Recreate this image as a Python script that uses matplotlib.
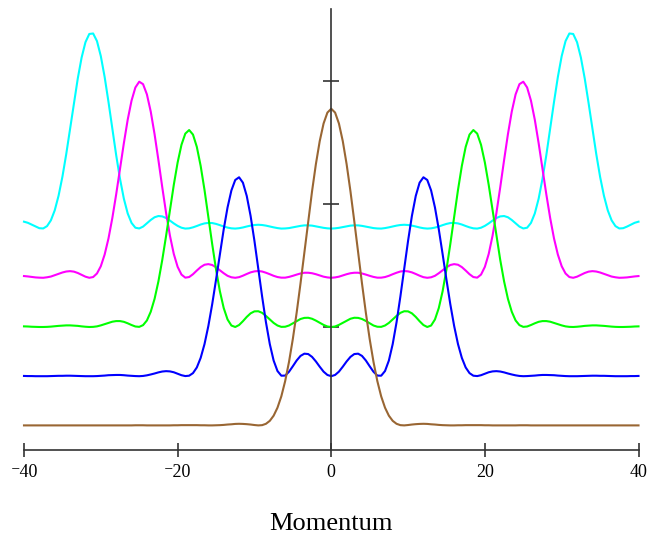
import numpy as np
import matplotlib
matplotlib.use('Agg')
import matplotlib.pyplot as plt

plt.rcParams['font.family'] = ['Liberation Serif', 'DejaVu Serif']

# momentum grid (right half, curves are symmetric about p = 0)
p_half = np.arange(0, 40.5, 0.5)

# momentum distributions, p = 0 .. 40 in steps of 0.5
brown = [2.574, 2.543, 2.454, 2.311, 2.124, 1.903, 1.659, 1.406, 1.155, 0.918,
         0.703, 0.516, 0.360, 0.236, 0.144, 0.079, 0.037, 0.013, 0.002, 0.000,
         0.003, 0.007, 0.010, 0.012, 0.013, 0.012, 0.009, 0.007, 0.004, 0.002,
         0.001, 0.000, 0.000, 0.001, 0.001, 0.002, 0.002, 0.002, 0.002, 0.002,
         0.001, 0.001, 0.000, 0.000, 0.000, 0.000, 0.000, 0.000, 0.000, 0.001,
         0.001, 0.001, 0.000, 0.000, 0.000, 0.000, 0.000, 0.000, 0.000, 0.000,
         0.000, 0.000, 0.000, 0.000, 0.000, 0.000, 0.000, 0.000, 0.000, 0.000,
         0.000, 0.000, 0.000, 0.000, 0.000, 0.000, 0.000, 0.000, 0.000, 0.000,
         0.000]

blue = [0.000, 0.010, 0.037, 0.077, 0.120, 0.157, 0.180, 0.183, 0.165, 0.128,
        0.081, 0.036, 0.005, 0.004, 0.042, 0.127, 0.261, 0.438, 0.648, 0.875,
        1.100, 1.303, 1.465, 1.573, 1.617, 1.595, 1.510, 1.372, 1.194, 0.992,
        0.784, 0.585, 0.408, 0.261, 0.149, 0.071, 0.025, 0.004, 0.001, 0.008,
        0.020, 0.032, 0.039, 0.041, 0.038, 0.031, 0.022, 0.014, 0.007, 0.002,
        0.000, 0.001, 0.003, 0.005, 0.008, 0.010, 0.010, 0.009, 0.008, 0.005,
        0.003, 0.001, 0.000, 0.000, 0.000, 0.001, 0.002, 0.003, 0.004, 0.004,
        0.003, 0.003, 0.002, 0.001, 0.000, 0.000, 0.000, 0.000, 0.001, 0.001,
        0.002]

green = [0.000, 0.004, 0.017, 0.034, 0.052, 0.067, 0.075, 0.074, 0.065, 0.049,
         0.030, 0.012, 0.002, 0.001, 0.012, 0.033, 0.061, 0.090, 0.115, 0.128,
         0.127, 0.111, 0.082, 0.047, 0.016, 0.000, 0.012, 0.061, 0.154, 0.291,
         0.468, 0.674, 0.896, 1.114, 1.309, 1.464, 1.564, 1.601, 1.572, 1.481,
         1.337, 1.155, 0.951, 0.742, 0.545, 0.371, 0.229, 0.124, 0.053, 0.015,
         0.001, 0.004, 0.016, 0.030, 0.042, 0.048, 0.048, 0.043, 0.033, 0.023,
         0.013, 0.005, 0.001, 0.000, 0.002, 0.005, 0.009, 0.011, 0.013, 0.013,
         0.011, 0.009, 0.006, 0.003, 0.001, 0.000, 0.000, 0.001, 0.002, 0.004,
         0.005]

magenta = [0.000, 0.003, 0.009, 0.019, 0.029, 0.037, 0.041, 0.041, 0.035, 0.026,
           0.016, 0.007, 0.001, 0.001, 0.006, 0.016, 0.029, 0.041, 0.051, 0.055,
           0.052, 0.044, 0.031, 0.017, 0.005, 0.000, 0.004, 0.016, 0.037, 0.061,
           0.085, 0.104, 0.111, 0.106, 0.087, 0.059, 0.029, 0.006, 0.001, 0.026,
           0.089, 0.194, 0.342, 0.526, 0.736, 0.956, 1.167, 1.351, 1.491, 1.574,
           1.594, 1.547, 1.440, 1.285, 1.094, 0.886, 0.678, 0.486, 0.320, 0.189,
           0.094, 0.035, 0.006, 0.000, 0.009, 0.024, 0.039, 0.050, 0.054, 0.051,
           0.043, 0.032, 0.021, 0.010, 0.004, 0.000, 0.001, 0.003, 0.007, 0.011,
           0.014]

cyan = [0.000, 0.002, 0.006, 0.012, 0.018, 0.024, 0.026, 0.026, 0.022, 0.016,
        0.010, 0.004, 0.001, 0.000, 0.004, 0.010, 0.017, 0.024, 0.029, 0.031,
        0.029, 0.024, 0.017, 0.009, 0.003, 0.000, 0.002, 0.008, 0.017, 0.028,
        0.038, 0.045, 0.046, 0.042, 0.033, 0.021, 0.010, 0.002, 0.000, 0.007,
        0.022, 0.042, 0.065, 0.086, 0.099, 0.102, 0.092, 0.070, 0.043, 0.016,
        0.001, 0.007, 0.046, 0.123, 0.243, 0.404, 0.597, 0.811, 1.029, 1.232,
        1.402, 1.524, 1.586, 1.582, 1.515, 1.390, 1.220, 1.021, 0.811, 0.606,
        0.421, 0.267, 0.148, 0.067, 0.020, 0.001, 0.003, 0.016, 0.032, 0.047,
        0.056]

# vertical offset of each curve
offsets = [1.8, 1.4, 1.0, 0.6, 0.2]
series = [cyan, magenta, green, blue, brown]
colors = ['#00ffff', '#ff00ff', '#00ff00', '#0000ff', '#996633']

x_ticks = [-40, -20, 0, 20, 40]
x_labels = ['\u207b40', '\u207b20', '0', '20', '40']
y_ticks = [1, 2, 3]

p = np.concatenate([-p_half[:0:-1], p_half])

fig = plt.figure(figsize=(6.51, 5.35), dpi=100)
ax = fig.add_axes([24 / 651, 85 / 535, 614.5 / 651, 441 / 535])

for vals, off, col in zip(series, offsets, colors):
    v = np.array(vals)
    full = np.concatenate([v[:0:-1], v]) + off
    ax.plot(p, full, color=col, lw=1.5, clip_on=False,
            solid_joinstyle='round')

ax.set_xlim(-40, 40)
ax.set_ylim(0, 3.585)

for s in ['top', 'right']:
    ax.spines[s].set_visible(False)
ax.spines['left'].set_position(('data', 0))
for s in ['left', 'bottom']:
    ax.spines[s].set_color('#333333')
    ax.spines[s].set_linewidth(1.2)

ax.set_xticks(x_ticks)
ax.set_xticklabels(x_labels)
ax.set_yticks(y_ticks)
ax.set_yticklabels([])
ax.tick_params(axis='x', direction='inout', length=10, width=1.2,
               color='#333333', pad=5, labelsize=13)
ax.tick_params(axis='y', direction='inout', length=11, width=1.2,
               color='#333333', labelleft=False)

ax.set_xlabel('Momentum', fontsize=19, labelpad=23)

fig.savefig('out.png', dpi=100)
